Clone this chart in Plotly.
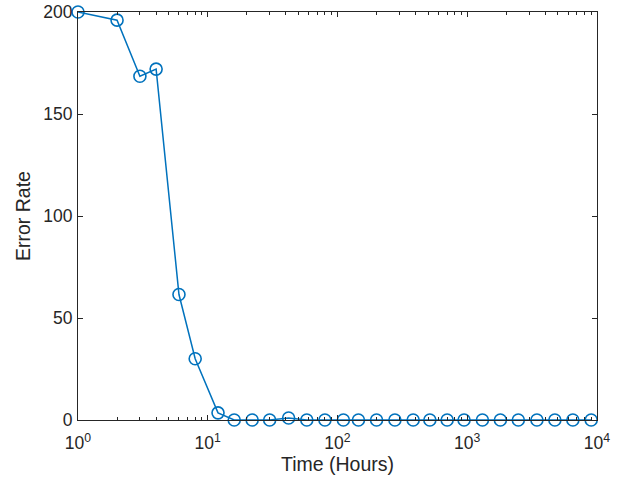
import plotly.graph_objects as go

time_hours = [1, 2, 3, 4, 6, 8, 12, 16, 22, 30, 42, 58, 80, 111, 145, 200, 277,
              383, 515, 700, 945, 1309, 1800, 2475, 3444, 4735, 6514, 9020]
error_rate = [200, 196, 168.5, 172, 61.5, 30, 3.5, 0, 0, 0, 1, 0, 0, 0, 0, 0, 0,
              0, 0, 0, 0, 0, 0, 0, 0, 0, 0, 0]

x_tick_vals = [1, 10, 100, 1000, 10000]
x_tick_text = ["10<sup>0</sup>", "10<sup>1</sup>", "10<sup>2</sup>", "10<sup>3</sup>", "10<sup>4</sup>"]
y_tick_vals = [0, 50, 100, 150, 200]

minor_vals = [m * 10 ** d for d in range(4) for m in range(2, 10)]

fig = go.Figure()
fig.add_trace(go.Scatter(
    x=time_hours, y=error_rate, mode="lines+markers",
    line=dict(color="#0072BD", width=1.5),
    marker=dict(symbol="circle-open", size=12, color="#0072BD", line=dict(width=1.6, color="#0072BD")),
    cliponaxis=False, showlegend=False, hoverinfo="skip",
))

tick_font = dict(family="Liberation Sans, Arial, sans-serif", size=17.5, color="#262626")
title_font = dict(family="Liberation Sans, Arial, sans-serif", size=19.5, color="#262626")
fig.update_layout(
    width=632, height=483,
    margin=dict(l=78, r=35, t=12, b=63, autoexpand=False),
    paper_bgcolor="white", plot_bgcolor="white",
    font=tick_font,
    xaxis=dict(
        type="log", range=[0, 4], tickmode="array", tickvals=x_tick_vals, ticktext=x_tick_text,
        ticks="inside", ticklen=5, tickwidth=1, tickcolor="#262626",
        showline=True, linecolor="#262626", linewidth=1, mirror="ticks",
        showgrid=False, zeroline=False, automargin=False, ticklabelstandoff=7,
        ticklabeloverflow="allow",
        minor=dict(tickmode="array", tickvals=minor_vals, ticks="inside", ticklen=3,
                   tickcolor="#262626", showgrid=False),
        title=dict(text="Time (Hours)", font=title_font, standoff=4),
        tickfont=tick_font,
    ),
    yaxis=dict(
        range=[0, 200], tickmode="array", tickvals=y_tick_vals,
        ticks="inside", ticklen=5, tickwidth=1, tickcolor="#262626",
        showline=True, linecolor="#262626", linewidth=1, mirror="ticks",
        showgrid=False, zeroline=False, automargin=False, ticklabelstandoff=1,
        ticklabeloverflow="allow",
        title=dict(text="Error Rate", font=title_font, standoff=7),
        tickfont=tick_font,
    ),
)

fig.write_html("out.html", config={"displayModeBar": False},
               post_script="document.body.style.margin='0';")
